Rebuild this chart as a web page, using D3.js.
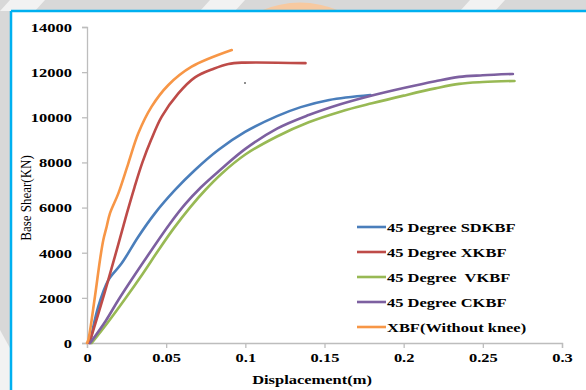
<!DOCTYPE html>
<html><head><meta charset="utf-8">
<script src="https://cdn.jsdelivr.net/npm/d3@7"></script>
<style>body{margin:0;}svg{display:block;}</style>
</head><body>
<svg id="c" width="586" height="390"></svg>
<script>
const seriesNames = ["45 Degree SDKBF","45 Degree XKBF","45 Degree  VKBF","45 Degree CKBF","XBF(Without knee)"];
const colors = ["#4a7ebb","#be4b48","#98b954","#7d60a0","#f79646"];
const sdkbf = [[0.0019,0],[0.0071,1610],[0.0135,2790],[0.0219,3530],[0.0324,4710],[0.0429,5745],[0.0556,6780],[0.0682,7665],[0.0829,8550],[0.0998,9350],[0.12,10050],[0.135,10450],[0.153,10770],[0.179,10990]];
const xkbf = [[0.0015,0],[0.011,2200],[0.0195,4300],[0.025,5700],[0.03,6900],[0.035,8000],[0.0405,9000],[0.0472,10030],[0.0577,11060],[0.0682,11770],[0.08,12150],[0.0893,12360],[0.0977,12420],[0.138,12400]];
const vkbf = [[0.003,0],[0.013,900],[0.024,1950],[0.035,3050],[0.045,4100],[0.055,5100],[0.065,6000],[0.075,6800],[0.085,7500],[0.1,8350],[0.12,9150],[0.14,9780],[0.16,10250],[0.18,10620],[0.2,10960],[0.22,11280],[0.235,11480],[0.25,11560],[0.27,11610]];
const ckbf = [[0.002,0],[0.012,1000],[0.0198,1905],[0.03,3000],[0.0408,4120],[0.052,5250],[0.062,6150],[0.072,6900],[0.083,7600],[0.1,8600],[0.12,9500],[0.14,10100],[0.16,10580],[0.18,10970],[0.2,11300],[0.22,11600],[0.235,11790],[0.25,11860],[0.269,11920]];
const xbf = [[0,0],[0.0008,130],[0.005,2050],[0.0082,3680],[0.0103,4560],[0.0124,5150],[0.0145,5745],[0.0198,6630],[0.0261,7960],[0.0324,9290],[0.0408,10470],[0.0514,11430],[0.0661,12242],[0.0914,12981]];
const allSeries = [sdkbf, xkbf, vkbf, ckbf, xbf];
const xTicks = [0,0.05,0.1,0.15,0.2,0.25,0.3];
const yTicks = [0,2000,4000,6000,8000,10000,12000,14000];

const FONT = '"Liberation Serif"';
const svg = d3.select("#c");
svg.append("rect").attr("width",586).attr("height",390).attr("fill","#d8d8d8");
[0,200,460].forEach(a=>{
  svg.append("path").attr("d",`M${a},11 L${a+10},0 L${a+45},0 L${a+35},11 Z`).attr("fill","#f2f2f2");
});
svg.append("path").attr("d","M260,11 Q300,-6 340,11 Z").attr("fill","#f7c9a0");
svg.append("path").attr("d","M0,330 L11,350 L11,390 L0,390 Z").attr("fill","#f2f2f2");
svg.append("rect").attr("x",11).attr("y",11).attr("width",586).attr("height",390).attr("fill","#ffffff");
svg.append("line").attr("x1",11).attr("x2",586).attr("y1",11).attr("y2",11).attr("stroke","#00b0f0").attr("stroke-width",2.5);
svg.append("line").attr("x1",11).attr("x2",11).attr("y1",11).attr("y2",390).attr("stroke","#00b0f0").attr("stroke-width",2.5);

const x = d3.scaleLinear().domain([0,0.3]).range([87,562]);
const y = d3.scaleLinear().domain([0,14000]).range([343,27]);

const xAxis = svg.append("g").attr("transform","translate(0,343)")
  .call(d3.axisBottom(x).tickValues(xTicks).tickFormat(d=>String(+d.toFixed(2))).tickSizeOuter(0).tickSize(5));
const yAxis = svg.append("g").attr("transform","translate(87,0)")
  .call(d3.axisLeft(y).tickValues(yTicks).tickFormat(d3.format("d")).tickSizeOuter(0).tickSize(5));
[xAxis,yAxis].forEach(g=>{
  g.select(".domain").attr("stroke","#bdbdbd").attr("stroke-width",1.3);
  g.selectAll(".tick line").attr("stroke","#bdbdbd").attr("stroke-width",1.3);
  g.selectAll(".tick text").style("font-family",FONT).style("font-weight","bold").style("font-size","13.5px").attr("fill","#000");
});
xAxis.selectAll(".tick text").attr("y",0).attr("dy",0).attr("transform","translate(0,19) scale(1.22,1)");
yAxis.selectAll(".tick text").attr("x",0).attr("transform","translate(-15,0) scale(1.22,1)");

const line = d3.line().x(d=>x(d[0])).y(d=>y(d[1])).curve(d3.curveCatmullRom.alpha(0.5));
allSeries.forEach((s,i)=>{
  svg.append("path").datum(s).attr("d",line).attr("fill","none")
    .attr("stroke",colors[i]).attr("stroke-width",2.6).attr("stroke-linejoin","round").attr("stroke-linecap","round");
});
svg.append("circle").attr("cx",245).attr("cy",83).attr("r",0.8).attr("fill","#000");

const lg = svg.append("g");
seriesNames.forEach((n,i)=>{
  const yy = 227 + i*25;
  lg.append("line").attr("x1",357).attr("x2",386).attr("y1",yy).attr("y2",yy).attr("stroke",colors[i]).attr("stroke-width",2.6);
  lg.append("text").attr("transform",`translate(387,${yy}) scale(1.22,1)`).attr("dy","0.35em")
    .style("font-family",FONT).style("font-weight","bold").style("font-size","13.5px").style("white-space","pre")
    .attr("fill","#000").text(n);
});

svg.append("text").attr("transform","translate(312,384) scale(1.22,1)").attr("text-anchor","middle")
  .style("font-family",FONT).style("font-weight","bold").style("font-size","13.5px").text("Displacement(m)");
svg.append("text").attr("transform","translate(31,198) scale(1.2,1) rotate(-90)").attr("text-anchor","middle")
  .style("font-family",FONT).style("font-size","13px").text("Base Shear(KN)");
</script>
</body></html>
